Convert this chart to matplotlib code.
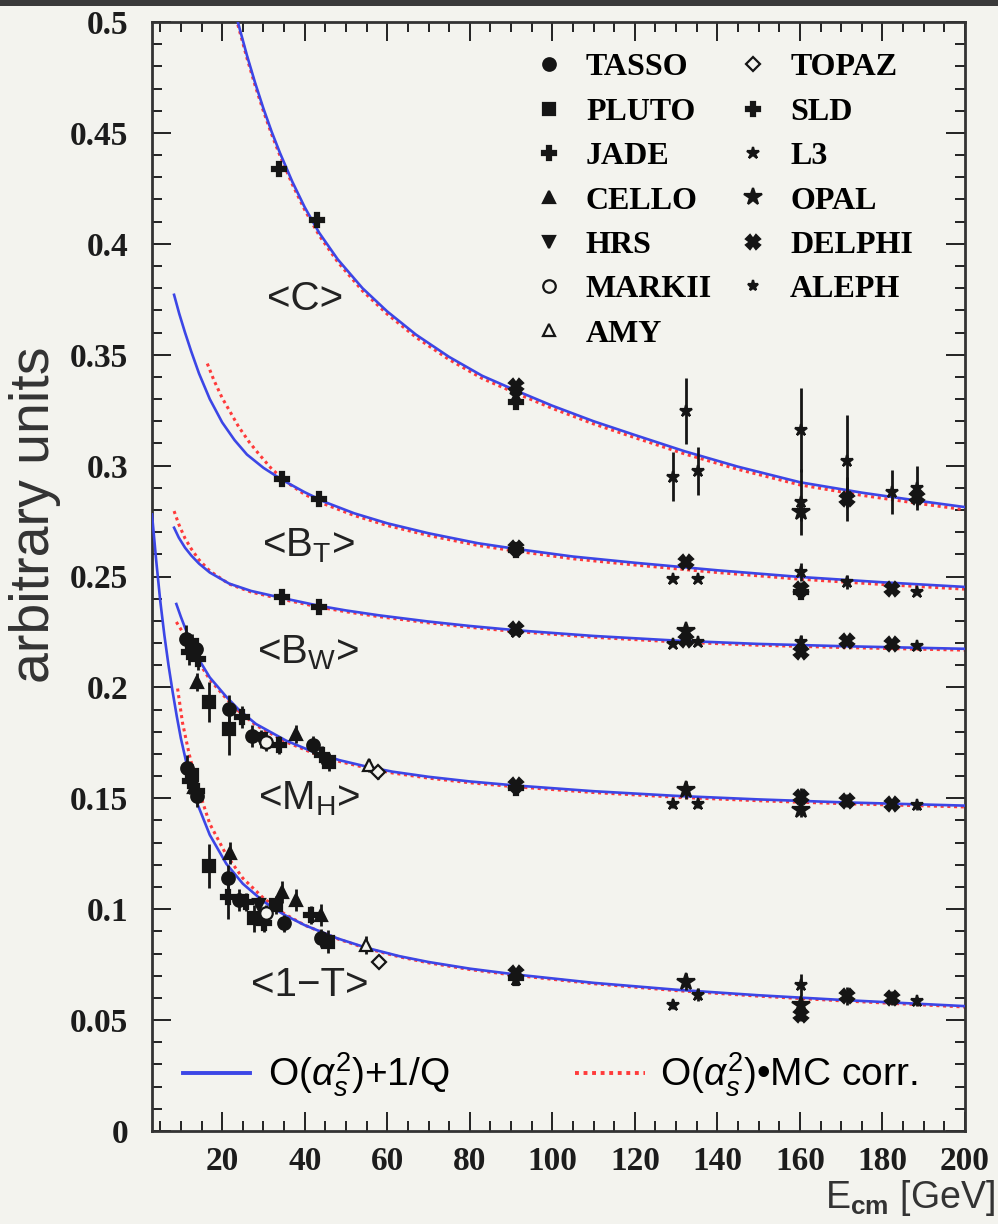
import matplotlib
matplotlib.use("Agg")
import matplotlib.pyplot as plt
from matplotlib.lines import Line2D
from matplotlib.patches import Rectangle
from matplotlib.ticker import MultipleLocator

plt.rcParams['mathtext.fontset'] = 'custom'
plt.rcParams['mathtext.rm'] = 'Liberation Sans'
plt.rcParams['mathtext.it'] = 'Liberation Sans:italic'
plt.rcParams['mathtext.bf'] = 'Liberation Sans:bold'

# ---- fit curves: O(as^2)+1/Q (blue) and O(as^2)*MC corr. (red) ----
c_fit_E = [23.8, 26, 28, 30, 32, 34, 37, 40, 43.5, 48, 54, 60, 67, 75, 83, 91, 100, 110, 120, 132, 145, 160, 175, 190, 200]
c_fit = [0.500, 0.485, 0.4725, 0.461, 0.4505, 0.441, 0.428, 0.4165, 0.405, 0.393, 0.380, 0.3695, 0.359, 0.349, 0.3405,
         0.334, 0.327, 0.320, 0.3138, 0.3065, 0.2995, 0.2925, 0.2878, 0.2838, 0.2813]
c_mc = [0.4988, 0.4838, 0.4713, 0.4598, 0.4493, 0.4398, 0.4268, 0.4153, 0.4038, 0.3918, 0.3788, 0.3683, 0.3578, 0.3478,
        0.3393, 0.3328, 0.3258, 0.3188, 0.3126, 0.3053, 0.2983, 0.2913, 0.2866, 0.2826, 0.2801]

bt_fit_E = [8.35, 9.6, 11, 12.5, 14.4, 17, 20, 23, 26, 30, 34.6, 40, 45, 52, 60, 70, 82, 91, 105, 120, 140, 160, 180, 200]
bt_fit = [0.377, 0.3685, 0.3600, 0.3515, 0.3415, 0.3300, 0.3195, 0.3115, 0.3050, 0.2990, 0.2935, 0.2880, 0.2835, 0.2785,
          0.2740, 0.2695, 0.2650, 0.2625, 0.2590, 0.2562, 0.2528, 0.2498, 0.2474, 0.2453]
bt_mc_E = [16.4, 18, 20, 21.7, 24, 26.6, 29, 32, 36, 40, 45, 52, 60, 70, 82, 91, 105, 120, 140, 160, 180, 200]
bt_mc = [0.346, 0.3385, 0.3305, 0.3250, 0.3175, 0.3105, 0.3050, 0.2985, 0.2920, 0.2870, 0.2825, 0.2775, 0.2730, 0.2685,
         0.2640, 0.2615, 0.2580, 0.2552, 0.2518, 0.2488, 0.2464, 0.2443]

bw_fit_E = [8.35, 9.5, 11, 12.5, 14.4, 17, 21.7, 27, 34.6, 43.5, 50, 58, 70, 80, 91, 110, 130, 150, 170, 200]
bw_fit = [0.272, 0.2675, 0.2630, 0.2595, 0.2558, 0.2518, 0.2468, 0.2435, 0.2403, 0.2368, 0.2347, 0.2325, 0.2297, 0.2277,
          0.2258, 0.2232, 0.2211, 0.2196, 0.2186, 0.2174]
bw_mc = [0.2795, 0.2735, 0.2672, 0.2625, 0.2575, 0.2525, 0.2466, 0.2430, 0.2397, 0.2362, 0.2341, 0.2319, 0.2291, 0.2271,
         0.2252, 0.2226, 0.2205, 0.2190, 0.2180, 0.2168]

mh_fit_E = [8.9, 10, 11.5, 13, 14.4, 17, 20.9, 24, 28.2, 35.5, 42, 48.4, 55, 61.3, 70, 80, 91, 110, 130, 150, 170, 200]
mh_fit = [0.2376, 0.2318, 0.2245, 0.2180, 0.2125, 0.2045, 0.1960, 0.1900, 0.1835, 0.1760, 0.1710, 0.1672, 0.1643, 0.1620,
          0.1597, 0.1576, 0.1558, 0.1532, 0.1511, 0.1495, 0.1482, 0.1467]
mh_mc = [0.2295, 0.2262, 0.2215, 0.2162, 0.2112, 0.2035, 0.1952, 0.1893, 0.1829, 0.1754, 0.1704, 0.1666, 0.1637, 0.1614,
         0.1591, 0.1570, 0.1552, 0.1526, 0.1505, 0.1489, 0.1476, 0.1461]

t_fit_E = [3, 4, 5, 6, 7, 8, 9, 10, 12, 14, 17, 21, 25, 30, 35, 40, 48, 55, 63, 70, 80, 91, 110, 130, 150, 170, 200]
t_fit = [0.278, 0.2575, 0.2390, 0.2235, 0.2100, 0.1980, 0.1870, 0.1770, 0.1605, 0.1475, 0.1335, 0.1205, 0.1115, 0.1035,
         0.0975, 0.0928, 0.0868, 0.0826, 0.0788, 0.0762, 0.0732, 0.0706, 0.0668, 0.0637, 0.0612, 0.0591, 0.0563]
t_mc_E = [9.2, 10.4, 12, 14, 17, 21, 25, 30, 35, 40, 48, 55, 63, 70, 80, 91, 110, 130, 150, 170, 200]
t_mc = [0.1995, 0.1840, 0.1700, 0.1555, 0.1385, 0.1245, 0.1140, 0.1050, 0.0980, 0.0928, 0.0866, 0.0823, 0.0785, 0.0758,
        0.0728, 0.0702, 0.0664, 0.0633, 0.0608, 0.0587, 0.0559]

# ---- measurements ----
c_E = [33.8, 43.0, 91.2, 91.2, 91.2, 129.2, 132.5, 135.3, 160.2, 160.2, 160.2, 171.4, 171.4, 182.4, 188.4, 188.4]
c_val = [0.4336, 0.4109, 0.3360, 0.3320, 0.3285, 0.2950, 0.3247, 0.2976, 0.3160, 0.2835, 0.2790, 0.3020, 0.2850,
         0.2880, 0.2900, 0.2860]
c_err = [0.002, 0.002, 0.002, 0.002, 0.002, 0.011, 0.015, 0.011, 0.019, 0.015, 0.004, 0.021, 0.010, 0.010, 0.010, 0.004]
c_exp = ['JADE', 'JADE', 'DELPHI', 'L3', 'SLD', 'L3', 'L3', 'L3', 'L3', 'L3', 'OPAL', 'L3', 'DELPHI', 'L3', 'L3', 'DELPHI']

bt_E = [34.6, 43.4, 91.2, 91.2, 129.2, 132.5, 135.3, 160.2, 160.2, 160.2, 171.4, 182.4, 188.4]
bt_val = [0.2939, 0.2849, 0.2630, 0.2618, 0.2490, 0.2565, 0.2490, 0.2520, 0.2444, 0.2430, 0.2475, 0.2444, 0.2430]
bt_err = [0.001, 0.001, 0.001, 0.001, 0.001, 0.002, 0.001, 0.004, 0.003, 0.002, 0.003, 0.001, 0.001]
bt_exp = ['JADE', 'JADE', 'DELPHI', 'SLD', 'L3', 'DELPHI', 'L3', 'L3', 'DELPHI', 'SLD', 'L3', 'DELPHI', 'L3']

bw_E = [34.6, 43.5, 91.2, 91.2, 129.2, 132.5, 132.5, 135.3, 160.2, 160.2, 171.4, 182.4, 188.4]
bw_val = [0.2408, 0.2363, 0.2262, 0.2250, 0.2196, 0.2256, 0.2215, 0.2205, 0.2205, 0.2160, 0.2210, 0.2196, 0.2187]
bw_err = [0.001, 0.001, 0.001, 0.001, 0.001, 0.002, 0.001, 0.001, 0.003, 0.002, 0.002, 0.001, 0.001]
bw_exp = ['JADE', 'JADE', 'DELPHI', 'L3', 'L3', 'OPAL', 'DELPHI', 'L3', 'L3', 'DELPHI', 'DELPHI', 'DELPHI', 'L3']

mh_E = [11.2, 12.0, 12.8, 13.6, 14.2, 13.9, 16.8, 21.7, 21.7, 24.9, 27.3, 29.4, 30.6, 33.8, 37.9, 41.9, 44.3, 45.9,
        55.7, 57.7, 91.2, 91.2, 91.2, 129.2, 132.5, 135.3, 160.2, 160.2, 171.4, 182.4, 188.4]
mh_val = [0.2220, 0.2160, 0.2190, 0.2174, 0.2130, 0.2025, 0.1934, 0.1904, 0.1814, 0.1868, 0.1782, 0.1769, 0.1754,
          0.1739, 0.1791, 0.1739, 0.1694, 0.1664, 0.1649, 0.1619, 0.1562, 0.1552, 0.1545, 0.1476, 0.1536, 0.1476,
          0.1507, 0.1446, 0.1490, 0.1476, 0.1469]
mh_err = [0.006, 0.006, 0.005, 0.005, 0.005, 0.004, 0.009, 0.006, 0.012, 0.005, 0.005, 0.004, 0.004, 0.004, 0.004,
          0.004, 0.004, 0.004, 0.003, 0.003, 0.002, 0.002, 0.002, 0.002, 0.004, 0.002, 0.004, 0.003, 0.003, 0.002, 0.002]
mh_exp = ['TASSO', 'JADE', 'PLUTO', 'TASSO', 'JADE', 'CELLO', 'PLUTO', 'TASSO', 'PLUTO', 'JADE', 'TASSO', 'HRS',
          'MARKII', 'JADE', 'CELLO', 'TASSO', 'JADE', 'PLUTO', 'AMY', 'TOPAZ', 'DELPHI', 'ALEPH', 'SLD', 'L3', 'OPAL',
          'L3', 'DELPHI', 'OPAL', 'DELPHI', 'DELPHI', 'L3']

t_E = [11.6, 12.1, 12.6, 13.2, 13.8, 14.0, 16.8, 21.3, 21.5, 21.9, 24.1, 25.8, 27.8, 29.0, 30.2, 30.6, 33.0, 34.6, 35.0,
       37.9, 41.5, 44.0, 44.0, 45.6, 54.9, 58.1, 91.2, 91.2, 91.2, 91.2, 129.2, 132.5, 135.3, 160.2, 160.2, 160.2,
       171.4, 182.4, 188.4]
t_val = [0.1635, 0.1580, 0.1605, 0.1550, 0.1512, 0.1535, 0.1195, 0.1057, 0.1139, 0.1255, 0.1041, 0.1034, 0.0959,
         0.1019, 0.0936, 0.0981, 0.1019, 0.1079, 0.0936, 0.1041, 0.0974, 0.0974, 0.0869, 0.0854, 0.0839, 0.0764,
         0.0712, 0.0700, 0.0690, 0.0682, 0.0569, 0.0674, 0.0614, 0.0659, 0.0569, 0.0524, 0.0607, 0.0599, 0.0585]
t_err = [0.006, 0.006, 0.005, 0.005, 0.005, 0.004, 0.010, 0.010, 0.006, 0.005, 0.005, 0.004, 0.006, 0.004, 0.004,
         0.004, 0.004, 0.005, 0.004, 0.005, 0.004, 0.005, 0.004, 0.005, 0.004, 0.003, 0.002, 0.002, 0.002, 0.002,
         0.002, 0.004, 0.003, 0.005, 0.003, 0.003, 0.004, 0.003, 0.002]
t_exp = ['TASSO', 'JADE', 'PLUTO', 'CELLO', 'TASSO', 'JADE', 'PLUTO', 'JADE', 'TASSO', 'CELLO', 'TASSO', 'JADE',
         'PLUTO', 'HRS', 'JADE', 'MARKII', 'PLUTO', 'CELLO', 'TASSO', 'CELLO', 'JADE', 'CELLO', 'TASSO', 'PLUTO', 'AMY',
         'TOPAZ', 'DELPHI', 'ALEPH', 'SLD', 'L3', 'L3', 'OPAL', 'L3', 'L3', 'OPAL', 'DELPHI', 'DELPHI', 'DELPHI', 'L3']

col1 = ['TASSO', 'PLUTO', 'JADE', 'CELLO', 'HRS', 'MARKII', 'AMY']
col2 = ['TOPAZ', 'SLD', 'L3', 'OPAL', 'DELPHI', 'ALEPH']

# marker, filled, size
style = {
    'TASSO': ('o', True, 9), 'PLUTO': ('s', True, 8), 'JADE': ('P', True, 10), 'CELLO': ('^', True, 9),
    'HRS': ('v', True, 9), 'MARKII': ('o', False, 9), 'AMY': ('^', False, 9), 'TOPAZ': ('D', False, 7),
    'SLD': ('P', True, 10), 'L3': ('*', True, 9), 'OPAL': ('*', True, 13), 'DELPHI': ('X', True, 10),
    'ALEPH': ('*', True, 8),
}

bg = '#f3f3ee'
ink = '#151515'
blue = '#3c46e6'
red = '#ff3a3a'

fig = plt.figure(figsize=(9.98, 12.24), dpi=100, facecolor=bg)
ax = fig.add_axes([152 / 998, 1 - 1131 / 1224, 813 / 998, 1109 / 1224], facecolor=bg)
fig.add_artist(Rectangle((0, 1 - 6 / 1224), 1, 6 / 1224, transform=fig.transFigure, color='#3a3a3a', lw=0))

curves = [(c_fit_E, c_fit, c_fit_E, c_mc), (bt_fit_E, bt_fit, bt_mc_E, bt_mc), (bw_fit_E, bw_fit, bw_fit_E, bw_mc),
          (mh_fit_E, mh_fit, mh_fit_E, mh_mc), (t_fit_E, t_fit, t_mc_E, t_mc)]
for fe, fv, me, mv in curves:
    ax.plot(me, mv, color=red, lw=2.2, ls=(0, (1, 1.2)), zorder=2)
    ax.plot(fe, fv, color=blue, lw=1.9, zorder=3)


def draw_points(E, val, err, exp):
    for name in style:
        idx = [i for i, e in enumerate(exp) if e == name]
        if not idx:
            continue
        m, filled, ms = style[name]
        ax.errorbar([E[i] for i in idx], [val[i] for i in idx], yerr=[err[i] for i in idx], fmt=m, ms=ms,
                    color=ink, mfc=ink if filled else bg, mec=ink, mew=1.6, elinewidth=2.0, capsize=0, zorder=4)


draw_points(c_E, c_val, c_err, c_exp)
draw_points(bt_E, bt_val, bt_err, bt_exp)
draw_points(bw_E, bw_val, bw_err, bw_exp)
draw_points(mh_E, mh_val, mh_err, mh_exp)
draw_points(t_E, t_val, t_err, t_exp)

# observable names next to the curves
lab = dict(fontsize=29, family='Liberation Sans', color='#222222', ha='center', va='center')
ax.text(40.2, 0.375, '<C>', **lab)
ax.text(40.9, 0.264, r'<B$_\mathrm{T}$>', **lab)
ax.text(40.9, 0.2155, r'<B$_\mathrm{W}$>', **lab)
ax.text(41.1, 0.150, r'<M$_\mathrm{H}$>', **lab)
ax.text(41.3, 0.066, '<1\u2212T>', **lab)

ax.set_xlim(3, 200)
ax.set_ylim(0, 0.5)
ax.xaxis.set_major_locator(MultipleLocator(20))
ax.xaxis.set_minor_locator(MultipleLocator(5))
ax.yaxis.set_major_locator(MultipleLocator(0.05))
ax.yaxis.set_minor_locator(MultipleLocator(0.01))
ax.tick_params(which='both', direction='in', top=True, right=True, colors='#222222', width=1.4)
ax.tick_params(which='major', length=14)
ax.tick_params(which='minor', length=7)
ax.tick_params(axis='y', which='major', pad=17)
ax.tick_params(axis='x', which='major', pad=11)
ax.set_yticks([0, 0.05, 0.1, 0.15, 0.2, 0.25, 0.3, 0.35, 0.4, 0.45, 0.5])
ax.set_yticklabels(['0', '0.05', '0.1', '0.15', '0.2', '0.25', '0.3', '0.35', '0.4', '0.45', '0.5'])
for t in ax.get_xticklabels() + ax.get_yticklabels():
    t.set_fontfamily('Liberation Serif')
    t.set_fontweight('bold')
    t.set_fontsize(24)
    t.set_color('#1c1c1c')
for s in ax.spines.values():
    s.set_linewidth(2.0)
    s.set_color('#333333')

fig.text(35 / 998, 1 - 515 / 1224, 'arbitrary units', rotation=90, fontsize=40, family='Liberation Sans',
         color='#333333', ha='center', va='center')
fig.text(995 / 998, 1 - 1198 / 1224, r'E$_{\mathbf{cm}}$ [GeV]', fontsize=27, family='Liberation Sans',
         color='#333333', ha='right', va='center')


def exp_handle(name):
    m, filled, ms = style[name]
    return Line2D([], [], ls='none', marker=m, ms=ms, color=ink, mfc=ink if filled else bg, mec=ink, mew=1.6)


leg_kw = dict(frameon=False, loc='upper left', borderpad=0, borderaxespad=0, handlelength=1.0, labelspacing=0.47,
              handletextpad=0.66, prop={'family': 'Liberation Serif', 'weight': 'bold', 'size': 23})
leg1 = ax.legend([exp_handle(n) for n in col1], col1, bbox_to_anchor=(0.4686, 0.972), **leg_kw)
ax.add_artist(leg1)
leg2 = ax.legend([exp_handle(n) for n in col2], col2, bbox_to_anchor=(0.7196, 0.972), **leg_kw)
ax.add_artist(leg2)

line_kw = dict(frameon=False, loc='center left', borderpad=0, borderaxespad=0,
               prop={'family': 'Liberation Sans', 'size': 28})
leg3 = ax.legend([Line2D([], [], color=blue, lw=2.8)], [r'O($\alpha_s^2$)+1/Q'], bbox_to_anchor=(0.038, 0.0505),
                 handlelength=1.72, handletextpad=0.46, **line_kw)
ax.add_artist(leg3)
ax.legend([Line2D([], [], color=red, lw=2.8, ls=(0, (1, 1.2)))], [r'O($\alpha_s^2$)•MC corr.'],
          bbox_to_anchor=(0.520, 0.0505), handlelength=1.8, handletextpad=0.38, **line_kw)

fig.savefig('out.png', dpi=100, facecolor=bg)
